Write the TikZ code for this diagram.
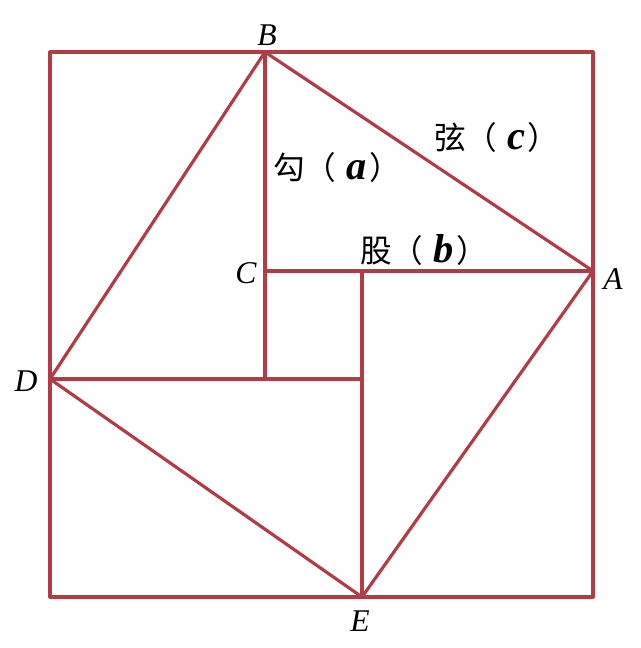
\documentclass[tikz,border=0pt]{standalone}
\usepackage{fontspec}
\setmainfont{Liberation Serif}
\newfontfamily\cjk{Noto Sans CJK SC}
\usetikzlibrary{calc}
\usetikzlibrary{positioning}
\definecolor{xianred}{RGB}{178,60,70}

\tikzset{
  edge/.style={draw=xianred,line width=1.8pt,line cap=round,line join=round},
  pt/.style={inner sep=0pt,anchor=center,font=\fontsize{18}{18}\selectfont\itshape},
  side/.style={inner sep=0pt,anchor=west,font=\fontsize{18}{18}\selectfont}
}
% one side label: Chinese name, then the bold letter in brackets
\newcommand{\sidelabel}[2]{{\cjk #1（}\hspace{5.5pt}{\fontsize{23}{23}\selectfont\bfseries\itshape #2}\hspace{1.5pt}{\cjk ）}}

\begin{document}
\begin{tikzpicture}[x=0.02cm,y=-0.02cm]
      \useasboundingbox (0,0) rectangle (640,648);
      % corners of the big square
      \coordinate (P1) at (50,52);
      \coordinate (P2) at (593,52);
      \coordinate (P3) at (593,597);
      \coordinate (P4) at (50,597);
      % points of the figure
      \coordinate (B) at (265,52);
      \coordinate (A) at (593,271);
      \coordinate (D) at (50,379);
      \coordinate (E) at (362,597);
      \coordinate (C) at (265,271);
      \coordinate (F) at (362,271);
      \coordinate (G) at (265,379);
      \coordinate (H) at (362,379);
      \draw[edge] (P1) -- (P2) -- (P3) -- (P4) -- cycle;
      \draw[edge] (B) -- (A) -- (E) -- (D) -- cycle;
      \draw[edge] (B) -- (G);
      \draw[edge] (C) -- (A);
      \draw[edge] (D) -- (H);
      \draw[edge] (F) -- (E);
      % letters
      \node[pt] (lB) at (267,35) {B};
      \node[pt] (lA) at (613,279) {A};
      \node[pt] (lC) at (246,273) {C};
      \node[pt] (lD) at (26,381) {D};
      \node[pt] (lE) at (360,621) {E};
      % sides
      \node[side] (gou) at (273,167) {\sidelabel{勾}{a}};
      \node[side] (xian) at (434,137) {\sidelabel{弦}{c}};
      \node[side] (gu) at (360,250) {\sidelabel{股}{b}};
    \end{tikzpicture}
\end{document}
